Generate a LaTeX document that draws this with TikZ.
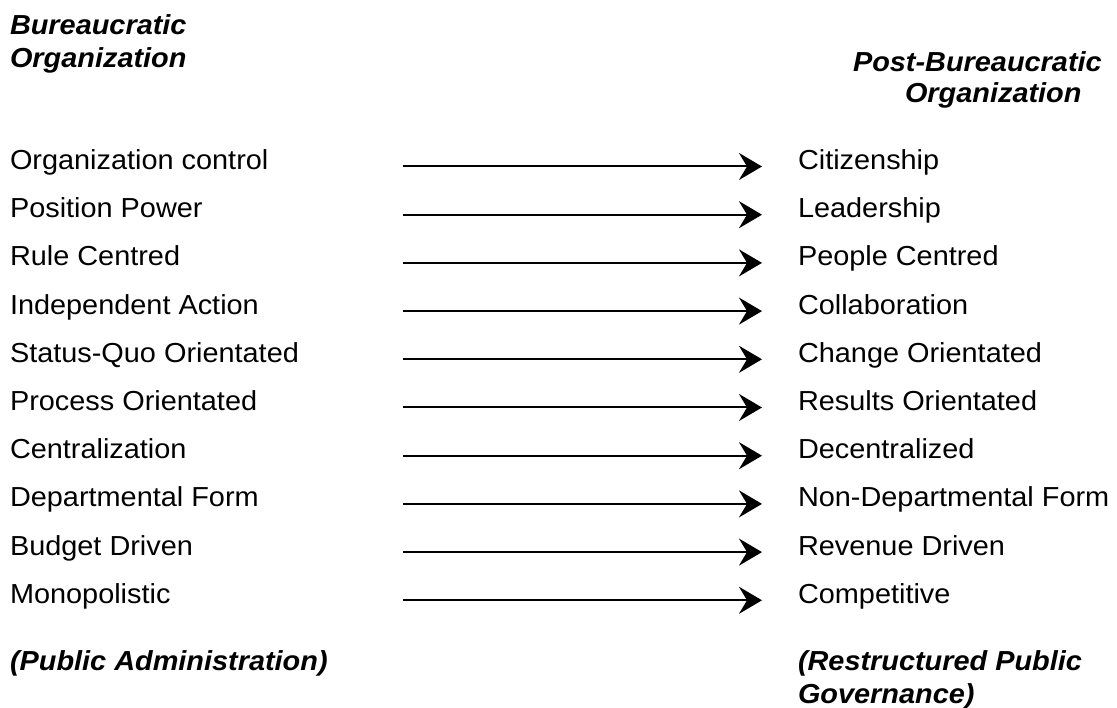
\documentclass[tikz,border=0pt]{standalone}
\usepackage{fontspec}
\setmainfont{Liberation Sans}[FakeStretch=1.05]
\usetikzlibrary{arrows.meta}
\begin{document}
\begin{tikzpicture}[x=1pt,y=-1pt,
  item/.style={inner sep=0pt,outer sep=0pt,anchor=base west,font=\fontsize{27.5}{32}\selectfont},
  head/.style={item,font=\fontsize{27.5}{32}\selectfont\bfseries\itshape},
  conn/.style={line width=2pt,-{Stealth[length=23pt,width=27pt,inset=8pt]}}]
\useasboundingbox (0,0) rectangle (1117,708);
% headers
\node[head] (h1) at (10,35) {Bureaucratic};
\node[head] (h2) at (10,68) {Organization};
\node[head] (h3) at (853,72) {Post-Bureaucratic};
\node[head] (h4) at (905,103) {Organization};
% rows
\foreach \l/\r [count=\i from 0] in {
  Organization control/Citizenship,
  Position Power/Leadership,
  Rule Centred/People Centred,
  Independent Action/Collaboration,
  Status-Quo Orientated/Change Orientated,
  Process Orientated/Results Orientated,
  Centralization/Decentralized,
  Departmental Form/Non-Departmental Form,
  Budget Driven/Revenue Driven,
  Monopolistic/Competitive}{
  \pgfmathsetmacro\yy{169.5+48.2*\i}
  \node[item] (L\i) at (10,\yy) {\l};
  \node[item] (R\i) at (798,\yy) {\r};
  \coordinate (S\i) at (403,\yy-3);
  \coordinate (E\i) at (762,\yy-3);
  \draw[conn] (S\i) -- (E\i);
}
% footers
\node[head] (f1) at (10,670) {(Public Administration)};
\node[head] (f2) at (798,670) {(Restructured Public};
\node[head] (f3) at (798,703) {Governance)};
\end{tikzpicture}
\end{document}
